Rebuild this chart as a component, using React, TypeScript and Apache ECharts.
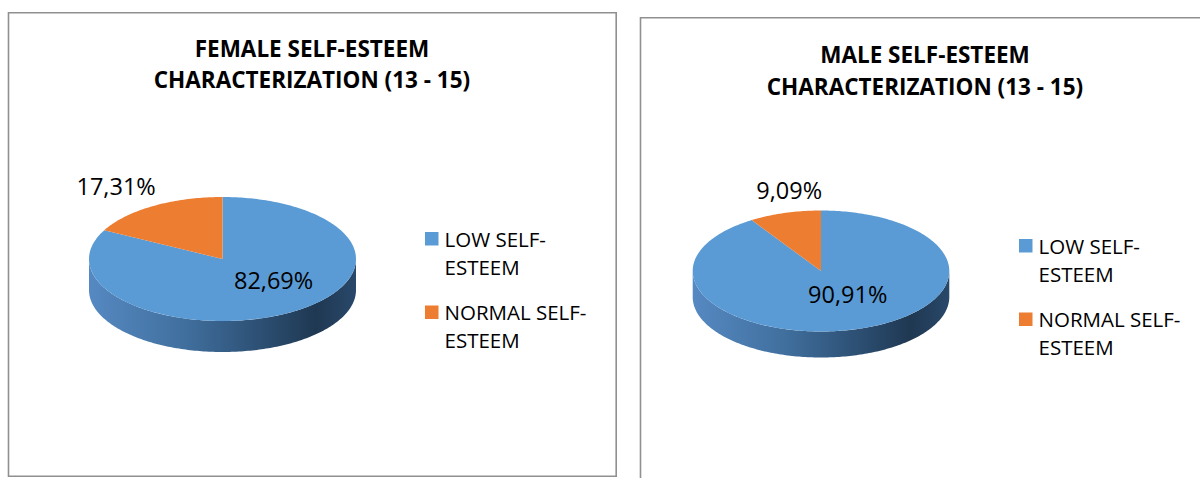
import React, { useEffect, useRef } from "react";
import * as echarts from "echarts";

// ---- data ----
const categories = ["LOW SELF-ESTEEM", "NORMAL SELF-ESTEEM"];
const legendLabels = ["LOW SELF-\nESTEEM", "NORMAL SELF-\nESTEEM"];
const panelTitles = [
  "FEMALE SELF-ESTEEM\nCHARACTERIZATION (13 - 15)",
  "MALE SELF-ESTEEM\nCHARACTERIZATION (13 - 15)",
];
const femaleValues = [82.69, 17.31];
const maleValues = [90.91, 9.09];
const panelValues = [femaleValues, maleValues];

// ---- styles / layout ----
const sliceColors = ["#5b9bd5", "#ed7d31"];
const FONT = "'Open Sans', 'Noto Sans', sans-serif";
const panels = [
  {
    box: [8.5, 12.8, 607.7, 463.5],
    titleX: 312, titleY: 32.3,
    cx: 222.5, cy: 259, rx: 133.5, ry: 62, depth: 31,
    outerK: [1.54, 1.38],
    legendX: 425, legendY: 238.5,
  },
  {
    box: [640.5, 17.8, 700, 600],
    titleX: 925, titleY: 39,
    cx: 821, cy: 271, rx: 128.3, ry: 60.5, depth: 26,
    outerK: [0.88, 1.4],
    legendX: 1019, legendY: 245.5,
  },
];
const INNER_K = [0.74, 0.4];
const LEGEND_STEP = 73.5;

const fmt = (v: number) => v.toFixed(2).replace(".", ",") + "%";

function arcPoints(cx: number, cy: number, rx: number, ry: number, a1: number, a2: number, dy = 0) {
  const pts: number[][] = [];
  const n = Math.max(2, Math.ceil(Math.abs(a2 - a1) / (Math.PI / 180)));
  for (let i = 0; i <= n; i++) {
    const a = a1 + ((a2 - a1) * i) / n;
    pts.push([cx + rx * Math.cos(a), cy + ry * Math.sin(a) + dy]);
  }
  return pts;
}

export default function App() {
  const ref = useRef<HTMLDivElement>(null);
  useEffect(() => {
    if (!ref.current) return;
    const chart = echarts.init(ref.current, undefined, { renderer: "svg" });

    const series = categories.map((name, ci) => ({
      type: "custom",
      name,
      coordinateSystem: "none",
      itemStyle: { color: sliceColors[ci] },
      data: panelValues.map((vals) => vals[ci]),
      renderItem: (params: any, api: any) => {
        const pi = params.dataIndex;
        const p = panels[pi];
        const vals = panelValues[pi];
        const total = vals.reduce((a, b) => a + b, 0);
        const before = vals.slice(0, ci).reduce((a, b) => a + b, 0);
        const value = api.value(0);
        const a1 = -Math.PI / 2 + (before / total) * 2 * Math.PI;
        const a2 = a1 + (value / total) * 2 * Math.PI;
        const color = api.visual("color");
        const children: any[] = [];

        // visible front side wall(s)
        const fronts = [
          [0, Math.PI],
          [2 * Math.PI, 3 * Math.PI],
          [-2 * Math.PI, -Math.PI],
        ];
        const sideFill = new echarts.graphic.LinearGradient(
          p.cx - p.rx, 0, p.cx + p.rx, 0,
          [
            { offset: 0, color: "#5689c2" },
            { offset: 0.35, color: "#41709f" },
            { offset: 0.62, color: "#2e5277" },
            { offset: 0.85, color: "#1f3852" },
            { offset: 1, color: "#29486a" },
          ],
          true
        );
        fronts.forEach(([f1, f2]) => {
          const b1 = Math.max(a1, f1);
          const b2 = Math.min(a2, f2);
          if (b2 > b1) {
            const top = arcPoints(p.cx, p.cy, p.rx, p.ry, b1, b2);
            const bottom = arcPoints(p.cx, p.cy, p.rx, p.ry, b2, b1, p.depth);
            children.push({
              type: "polygon",
              shape: { points: top.concat(bottom) },
              style: { fill: ci === 0 ? sideFill : color, stroke: "none" },
              z2: 1,
            });
          }
        });

        // top face sector
        const rim = arcPoints(p.cx, p.cy, p.rx, p.ry, a1, a2);
        children.push({
          type: "polygon",
          shape: { points: [[p.cx, p.cy]].concat(rim) },
          style: { fill: color, stroke: "none" },
          z2: 2,
        });

        // label
        const mid = (a1 + a2) / 2;
        const inside = value / total > 0.3;
        const k = inside ? INNER_K : p.outerK;
        children.push({
          type: "text",
          z2: 10,
          style: {
            text: fmt(value),
            x: p.cx + p.rx * Math.cos(mid) * k[0],
            y: p.cy + p.ry * Math.sin(mid) * k[1],
            align: "center",
            verticalAlign: "middle",
            fill: "#000",
            fontSize: 23.5,
            fontFamily: FONT,
          },
        });
        return { type: "group", children };
      },
    }));

    const graphic: any[] = [];
    panels.forEach((p) => {
      graphic.push({
        type: "rect",
        silent: true,
        shape: { x: p.box[0], y: p.box[1], width: p.box[2], height: p.box[3] },
        style: { fill: "none", stroke: "#909090", lineWidth: 1.6 },
        z: 0,
      });
      categories.forEach((c, ci) => {
        const yc = p.legendY + ci * LEGEND_STEP;
        graphic.push({
          type: "rect",
          shape: { x: p.legendX, y: yc - 6.5, width: 13.5, height: 13.5 },
          style: { fill: sliceColors[ci] },
        });
        graphic.push({
          type: "text",
          style: {
            text: legendLabels[ci],
            x: p.legendX + 19.5,
            y: yc - 14,
            verticalAlign: "top",
            align: "left",
            lineHeight: 28,
            fontSize: 20.5,
            fontFamily: FONT,
            fill: "#000",
          },
        });
      });
    });

    chart.setOption({
      animation: false,
      backgroundColor: "#ffffff",
      title: panels.map((p, i) => ({
        text: panelTitles[i],
        left: p.titleX,
        top: p.titleY,
        textAlign: "center",
        padding: 0,
        textStyle: {
          fontFamily: FONT,
          fontWeight: "bold",
          fontSize: 22.5,
          lineHeight: 31.5,
          color: "#000",
        },
      })),
      graphic,
      series,
    });
    return () => chart.dispose();
  }, []);

  return (
    <div
      ref={ref}
      style={{ position: "fixed", left: 0, top: 0, width: 1200, height: 478, background: "#fff" }}
    />
  );
}
